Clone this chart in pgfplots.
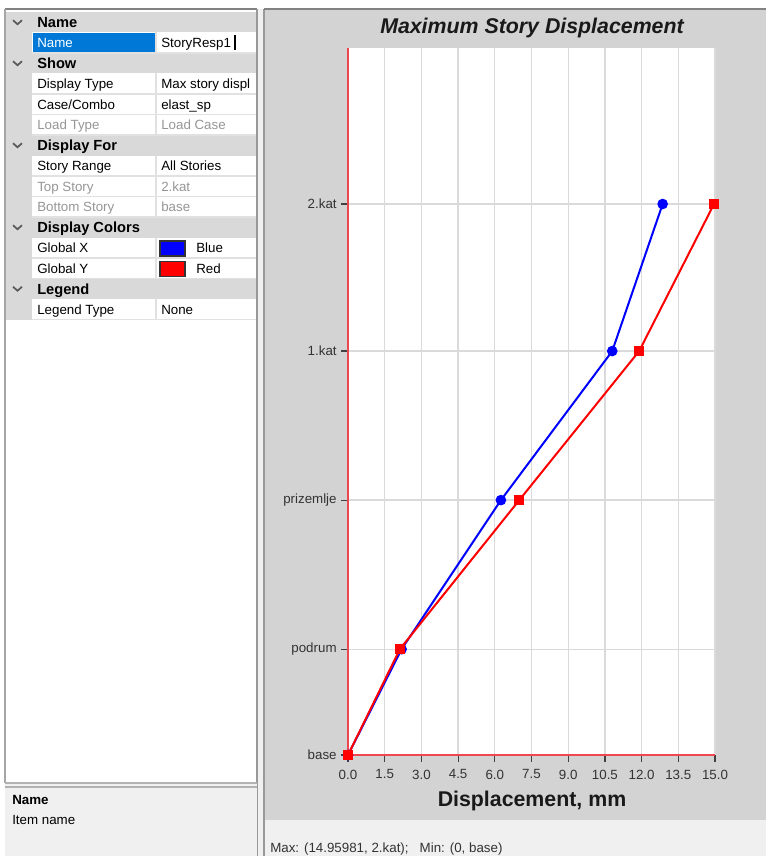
\documentclass[border=0pt]{standalone}
\usepackage{pgfplots}
\pgfplotsset{compat=1.18}
\usepackage{fontspec}
\setmainfont{Liberation Sans}
\definecolor{panelgray}{RGB}{211,211,211}
\definecolor{hdrgray}{RGB}{217,217,217}
\definecolor{winbg}{RGB}{240,240,240}
\definecolor{selblue}{RGB}{0,120,215}
\definecolor{axisred}{RGB}{240,70,80}
\definecolor{gridgray}{RGB}{218,218,218}
\definecolor{txtgray}{RGB}{51,51,51}
\definecolor{disgray}{RGB}{150,150,150}
\definecolor{sepgray}{RGB}{225,225,225}
\definecolor{bordgray}{RGB}{130,130,130}
\definecolor{chev}{RGB}{90,90,90}
\newcommand\fs{\fontsize{10}{12}\selectfont}
\newcommand\fh{\fontsize{11}{13}\selectfont\bfseries}
\begin{document}
\begin{tikzpicture}
\path[use as bounding box, clip] (0pt,0pt) rectangle (574.5pt,-642pt);
\begin{scope}[x=0.75pt,y=-0.75pt, font=\fs]
\fill[white] (0,0) rectangle (766,856);
% gaps
\fill[winbg] (257,9) rectangle (265,856);
% left property panel
\fill[white] (5,9) rectangle (257,783);
\fill[hdrgray] (5,12) rectangle (32,319.5);
\foreach \i in {0,2,6,10,13} {
  \fill[hdrgray] (5,{12+20.5*\i}) rectangle (257,{12+20.5*(\i+1)});
  \draw[chev, line width=1.3] (13,{22.25+20.5*\i-2}) -- (17.5,{22.25+20.5*\i+2}) -- (22,{22.25+20.5*\i-2});
}
\foreach \i in {1,3,4,5,7,8,9,11,12,14} {
  \draw[sepgray, line width=1.3] (32,{12+20.5*(\i+1)}) -- (257,{12+20.5*(\i+1)});
  \draw[sepgray, line width=1.3] (156,{12+20.5*\i}) -- (156,{12+20.5*(\i+1)});
}
\fill[selblue] (33,33) rectangle (155,52.5);
\draw[bordgray, line width=1.5] (5,9.5) -- (257,9.5);
\draw[black!35, line width=1] (5,9) -- (5,783);
\draw[black!40, line width=1.2] (257,9) -- (257,856);
% header texts
\node[anchor=base west, inner sep=0, font=\fh] at (37,27.5) {Name};
\node[anchor=base west, inner sep=0, font=\fh] at (37,68.5) {Show};
\node[anchor=base west, inner sep=0, font=\fh] at (37,150.5) {Display For};
\node[anchor=base west, inner sep=0, font=\fh] at (37,232.5) {Display Colors};
\node[anchor=base west, inner sep=0, font=\fh] at (37,294) {Legend};
% property texts
\node[anchor=base west, inner sep=0, text=white] at (37,47.5) {Name};
\node[anchor=base west, inner sep=0] at (161,47.5) {StoryResp1};
\draw[black, line width=1.2] (235,35.5) -- (235,50.5);
\node[anchor=base west, inner sep=0] at (37,88.5) {Display Type};
\node[anchor=base west, inner sep=0] at (161,88.5) {Max story displ};
\node[anchor=base west, inner sep=0] at (37,109) {Case/Combo};
\node[anchor=base west, inner sep=0] at (161,109) {elast\_sp};
\node[anchor=base west, inner sep=0, text=disgray] at (37,129.5) {Load Type};
\node[anchor=base west, inner sep=0, text=disgray] at (161,129.5) {Load Case};
\node[anchor=base west, inner sep=0] at (37,170.5) {Story Range};
\node[anchor=base west, inner sep=0] at (161,170.5) {All Stories};
\node[anchor=base west, inner sep=0, text=disgray] at (37,191) {Top Story};
\node[anchor=base west, inner sep=0, text=disgray] at (161,191) {2.kat};
\node[anchor=base west, inner sep=0, text=disgray] at (37,211.5) {Bottom Story};
\node[anchor=base west, inner sep=0, text=disgray] at (161,211.5) {base};
\node[anchor=base west, inner sep=0] at (37,252.5) {Global X};
\fill[blue, draw=black!80, line width=1] (160,241) rectangle (185,256);
\node[anchor=base west, inner sep=0] at (196,252.5) {Blue};
\node[anchor=base west, inner sep=0] at (37,273) {Global Y};
\fill[red, draw=black!80, line width=1] (160,261.5) rectangle (185,276.5);
\node[anchor=base west, inner sep=0] at (196,273) {Red};
\node[anchor=base west, inner sep=0] at (37,314) {Legend Type};
\node[anchor=base west, inner sep=0] at (161,314) {None};
% description pane
\fill[winbg] (5,784) rectangle (257,856);
\draw[black!30, line width=1.2] (5,783) -- (257,783);
\draw[black!30, line width=1.2] (5,787) -- (257,787);
\node[anchor=base west, inner sep=0, font=\fs\bfseries] at (12,804.5) {Name};
\node[anchor=base west, inner sep=0] at (12,824) {Item name};
% chart panel
\fill[panelgray] (265,10) rectangle (766,820);
\fill[winbg] (265,820) rectangle (766,856);
\draw[black!40, line width=1.5] (264,9) -- (264,856);
\draw[bordgray, line width=1.5] (264,9.5) -- (766,9.5);
\node[font=\fontsize{16}{19}\selectfont\bfseries\itshape, text=black!90] at (532,28) {Maximum Story Displacement};
\node[font=\fontsize{16}{19}\selectfont\bfseries, text=black!90] at (532,801) {Displacement, mm};
\node[anchor=base west, inner sep=0, text=txtgray] at (270,852) {Max: (14.95981, 2.kat);\ \ \ Min: (0, base)};
\end{scope}
\begin{axis}[
  at={(261pt,-566.25pt)}, anchor=south west,
  width=275.25pt, height=530.25pt, scale only axis,
  xmin=0, xmax=15, ymin=0, ymax=14.23,
  axis x line*=bottom, axis y line*=left,
  axis line style={axisred, line width=1.2pt},
  axis background/.style={fill=white},
  xtick={0,1.5,3,4.5,6,7.5,9,10.5,12,13.5,15},
  xticklabels={0.0,1.5,3.0,4.5,6.0,7.5,9.0,10.5,12.0,13.5,15.0},
  ytick={0,2.13,5.13,8.13,11.09},
  yticklabels={base,podrum,prizemlje,1.kat,2.kat},
  grid=major, major grid style={gridgray, line width=1pt},
  tick align=outside, major tick length=5pt,
  tick style={black!75, line width=0.9pt},
  ticklabel style={font=\fs, text=txtgray},
  xticklabel style={yshift=-2.5pt},
  clip=false,
]
\addplot[blue, line width=1.5pt, mark=*, mark size=3.2pt] coordinates {(0,0) (2.19,2.13) (6.25,5.13) (10.8,8.13) (12.86,11.09)};
\addplot[red, line width=1.5pt, mark=square*, mark size=3pt] coordinates {(0,0) (2.12,2.13) (7.0,5.13) (11.9,8.13) (14.96,11.09)};
\end{axis}
\end{tikzpicture}
\end{document}
